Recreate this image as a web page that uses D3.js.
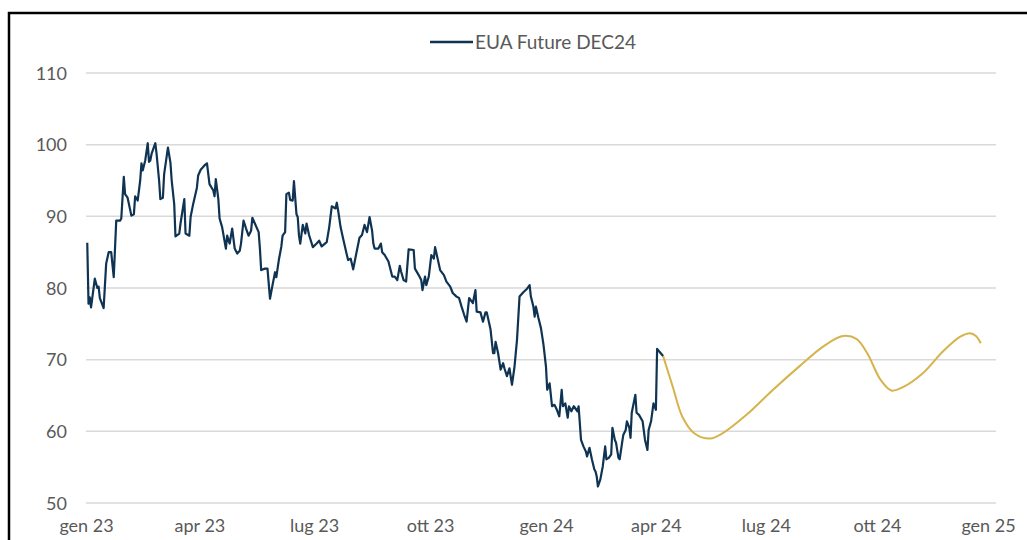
<!DOCTYPE html>
<html>
<head>
<meta charset="utf-8">
<script src="https://cdn.jsdelivr.net/npm/d3@7"></script>
<style>
  html, body { margin: 0; padding: 0; background: #ffffff; }
  svg { display: block; }
  text { font-family: Lato, "Open Sans", sans-serif; fill: #595959; }
</style>
</head>
<body>
<svg id="chart" width="1027" height="540"></svg>
<script>
// EUA Future DEC24 closing prices (EUR/t)
const histDates = [
  "2023-01-02","2023-01-03","2023-01-04","2023-01-05","2023-01-08","2023-01-10","2023-01-11","2023-01-12","2023-01-15","2023-01-17",
  "2023-01-19","2023-01-21","2023-01-23","2023-01-25","2023-01-28","2023-01-29","2023-01-31","2023-02-01","2023-02-03","2023-02-06",
  "2023-02-08","2023-02-09","2023-02-11","2023-02-13","2023-02-14","2023-02-15","2023-02-17","2023-02-19","2023-02-20","2023-02-21",
  "2023-02-22","2023-02-25","2023-02-26","2023-02-28","2023-03-01","2023-03-03","2023-03-04","2023-03-07","2023-03-09","2023-03-10",
  "2023-03-12","2023-03-13","2023-03-16","2023-03-17","2023-03-20","2023-03-21","2023-03-24","2023-03-25","2023-03-27","2023-03-30",
  "2023-03-31","2023-04-02","2023-04-05","2023-04-07","2023-04-09","2023-04-12","2023-04-13","2023-04-14","2023-04-16","2023-04-17",
  "2023-04-19","2023-04-22","2023-04-23","2023-04-25","2023-04-27","2023-04-29","2023-05-01","2023-05-03","2023-05-04","2023-05-06",
  "2023-05-08","2023-05-10","2023-05-12","2023-05-13","2023-05-15","2023-05-18","2023-05-19","2023-05-20","2023-05-23","2023-05-25",
  "2023-05-26","2023-05-27","2023-05-29","2023-05-31","2023-06-01","2023-06-03","2023-06-05","2023-06-06","2023-06-08","2023-06-09",
  "2023-06-11","2023-06-12","2023-06-14","2023-06-15","2023-06-17","2023-06-18","2023-06-19","2023-06-20","2023-06-22","2023-06-24",
  "2023-06-25","2023-06-27","2023-06-30","2023-07-03","2023-07-05","2023-07-07","2023-07-11","2023-07-13","2023-07-15","2023-07-18",
  "2023-07-19","2023-07-20","2023-07-22","2023-07-24","2023-07-27","2023-07-28","2023-07-30","2023-08-01","2023-08-03","2023-08-06",
  "2023-08-08","2023-08-10","2023-08-12","2023-08-14","2023-08-16","2023-08-17","2023-08-18","2023-08-21","2023-08-23","2023-08-24",
  "2023-08-26","2023-08-29","2023-08-30","2023-09-01","2023-09-03","2023-09-05","2023-09-07","2023-09-08","2023-09-10","2023-09-12",
  "2023-09-14","2023-09-18","2023-09-19","2023-09-22","2023-09-24","2023-09-25","2023-09-27","2023-09-28","2023-09-30","2023-10-02",
  "2023-10-04","2023-10-05","2023-10-07","2023-10-09","2023-10-12","2023-10-14","2023-10-17","2023-10-19","2023-10-22","2023-10-24",
  "2023-10-26","2023-10-28","2023-10-30","2023-11-01","2023-11-04","2023-11-06","2023-11-07","2023-11-10","2023-11-12","2023-11-14",
  "2023-11-15","2023-11-18","2023-11-20","2023-11-21","2023-11-22","2023-11-24","2023-11-26","2023-11-28","2023-11-29","2023-12-01",
  "2023-12-03","2023-12-05","2023-12-07","2023-12-09","2023-12-11","2023-12-14","2023-12-17","2023-12-19","2023-12-20","2023-12-22",
  "2023-12-23","2023-12-24","2023-12-26","2023-12-28","2023-12-30","2024-01-01","2024-01-02","2024-01-04","2024-01-06","2024-01-08",
  "2024-01-10","2024-01-12","2024-01-14","2024-01-15","2024-01-17","2024-01-19","2024-01-20","2024-01-22","2024-01-24","2024-01-27",
  "2024-01-28","2024-01-30","2024-02-01","2024-02-03","2024-02-04","2024-02-06","2024-02-08","2024-02-10","2024-02-11","2024-02-12",
  "2024-02-13","2024-02-15","2024-02-17","2024-02-19","2024-02-20","2024-02-22","2024-02-24","2024-02-25","2024-02-27","2024-02-28",
  "2024-03-01","2024-03-02","2024-03-04","2024-03-05","2024-03-07","2024-03-08","2024-03-10","2024-03-11","2024-03-12","2024-03-15",
  "2024-03-16","2024-03-18","2024-03-21","2024-03-23","2024-03-25","2024-03-26","2024-03-28","2024-03-30","2024-04-01","2024-04-02",
  "2024-04-05","2024-04-07"
];
const histValues = [
  86.3, 77.8, 78.7, 77.3, 81.3, 80.0, 80.2, 78.6, 77.2, 83.4,
  85.0, 85.0, 81.5, 89.4, 89.4, 89.7, 95.5, 93.1, 92.6, 90.1,
  90.3, 92.8, 92.2, 95.0, 97.4, 96.4, 97.8, 100.2, 97.6, 97.8,
  98.7, 100.2, 98.7, 95.0, 92.4, 92.6, 95.9, 99.6, 97.5, 95.0,
  91.7, 87.2, 87.6, 89.0, 92.4, 87.6, 87.3, 89.9, 91.7, 94.0,
  95.7, 96.5, 97.1, 97.4, 94.5, 93.6, 92.8, 95.2, 92.4, 89.7,
  88.5, 85.5, 87.3, 86.2, 88.3, 85.5, 84.8, 85.2, 86.2, 89.4,
  88.3, 87.3, 88.0, 89.8, 89.0, 87.8, 85.5, 82.5, 82.7, 82.7,
  80.6, 78.5, 80.4, 82.2, 81.5, 83.9, 85.8, 87.3, 87.8, 93.1,
  93.3, 92.3, 92.2, 94.9, 90.3, 89.9, 87.3, 86.2, 88.8, 87.6,
  89.0, 87.4, 85.7, 86.2, 86.6, 85.8, 86.4, 88.5, 91.4, 91.1,
  91.9, 90.9, 88.5, 86.9, 84.6, 83.9, 84.1, 82.6, 84.4, 87.0,
  87.4, 88.8, 87.8, 89.9, 88.0, 86.2, 85.5, 85.5, 86.2, 85.0,
  84.6, 83.7, 83.0, 81.6, 81.6, 81.1, 83.1, 82.3, 81.1, 80.9,
  85.4, 85.3, 82.7, 81.8, 81.1, 79.7, 81.6, 80.4, 81.6, 84.6,
  84.1, 85.7, 84.1, 82.5, 81.8, 80.9, 80.2, 79.3, 78.8, 78.6,
  77.4, 76.3, 75.3, 78.6, 77.9, 79.7, 76.7, 76.6, 75.3, 76.6,
  76.6, 74.2, 70.9, 70.9, 72.5, 70.9, 68.6, 69.5, 68.8, 67.7,
  68.8, 66.5, 69.0, 72.8, 78.8, 79.4, 79.9, 80.4, 78.8, 77.4,
  76.0, 77.4, 75.8, 74.4, 72.1, 69.0, 65.8, 66.7, 63.5, 63.7,
  63.0, 62.1, 65.8, 63.5, 63.9, 61.9, 63.5, 62.8, 63.5, 62.8,
  63.5, 58.8, 57.9, 57.2, 56.5, 57.7, 56.1, 54.7, 54.4, 53.7,
  52.3, 53.3, 55.1, 57.9, 56.1, 56.3, 56.8, 60.5, 58.8, 58.4,
  56.3, 56.1, 58.4, 59.5, 60.2, 61.4, 60.5, 59.1, 62.6, 65.1,
  62.6, 62.3, 61.4, 58.8, 57.4, 60.2, 61.4, 63.9, 63.0, 71.5,
  70.9, 70.5
];

// Projected path to contract expiry
const fcDates = [
  "2024-04-07","2024-04-15","2024-04-23","2024-05-03","2024-05-16","2024-05-26","2024-06-15","2024-07-07",
  "2024-07-29","2024-08-18","2024-09-03","2024-09-14","2024-09-23","2024-10-04","2024-10-13","2024-10-23",
  "2024-11-08","2024-11-25","2024-12-09","2024-12-17","2024-12-22","2024-12-26"
];
const fcValues = [
  70.5, 66.2, 62.0, 59.7, 59.0, 59.7, 62.3, 65.8,
  69.1, 71.9, 73.3, 72.9, 70.9, 67.2, 65.7, 66.2,
  68.1, 71.2, 73.2, 73.7, 73.3, 72.3
];

const yTicks = [50, 60, 70, 80, 90, 100, 110];
const xTickDates = ["2023-01-01","2023-04-01","2023-07-01","2023-10-01","2024-01-01",
                    "2024-04-01","2024-07-01","2024-10-01","2025-01-01"];
const legendLabel = "EUA Future DEC24";

const parse = d3.utcParse("%Y-%m-%d");
const itLocale = d3.timeFormatLocale({
  dateTime: "%A %e %B %Y, %X", date: "%d/%m/%Y", time: "%H:%M:%S",
  periods: ["AM", "PM"],
  days: ["domenica","lunedì","martedì","mercoledì","giovedì","venerdì","sabato"],
  shortDays: ["dom","lun","mar","mer","gio","ven","sab"],
  months: ["gennaio","febbraio","marzo","aprile","maggio","giugno","luglio","agosto","settembre","ottobre","novembre","dicembre"],
  shortMonths: ["gen","feb","mar","apr","mag","giu","lug","ago","set","ott","nov","dic"]
});
const fmtTick = itLocale.utcFormat("%b %y");

const hist = histDates.map((d, i) => ({ date: parse(d), value: histValues[i] }));
const fc = fcDates.map((d, i) => ({ date: parse(d), value: fcValues[i] }));

const svg = d3.select("#chart");

// Plot area
const plotLeft = 86, plotRight = 996, plotTop = 73, plotBottom = 503;

const x = d3.scaleUtc()
  .domain([parse("2023-01-01"), parse("2024-01-01"), parse("2025-01-01")])
  .range([plotLeft, 546, 988]);
const y = d3.scaleLinear().domain([50, 110]).range([plotBottom, plotTop]);

// Horizontal gridlines
svg.append("g")
  .selectAll("line")
  .data(yTicks)
  .join("line")
  .attr("x1", plotLeft).attr("x2", plotRight)
  .attr("y1", d => y(d)).attr("y2", d => y(d))
  .attr("stroke", "#d9d9d9").attr("stroke-width", 1.5);

// Y axis labels
const yAxis = d3.axisLeft(y).tickValues(yTicks).tickSize(0).tickPadding(0);
svg.append("g")
  .attr("transform", "translate(67,0)")
  .call(yAxis)
  .call(g => g.select(".domain").remove())
  .selectAll("text")
  .attr("font-size", 18)
  .attr("fill", "#595959")
  .attr("dy", "0.35em")
  .style("font-family", "Lato, 'Open Sans', sans-serif");

// X axis labels
const xAxis = d3.axisBottom(x)
  .tickValues(xTickDates.map(parse))
  .tickFormat(fmtTick)
  .tickSize(0).tickPadding(0);
svg.append("g")
  .attr("transform", `translate(0,${plotBottom + 16})`)
  .call(xAxis)
  .call(g => g.select(".domain").remove())
  .selectAll("text")
  .attr("font-size", 18)
  .attr("fill", "#595959")
  .attr("dy", "0.71em")
  .style("font-family", "Lato, 'Open Sans', sans-serif");

// Projection line
svg.append("path")
  .datum(fc)
  .attr("fill", "none")
  .attr("stroke", "#d6b34c")
  .attr("stroke-width", 2)
  .attr("d", d3.line().x(d => x(d.date)).y(d => y(d.value)).curve(d3.curveCatmullRom.alpha(0.5)));

// Historical price line
svg.append("path")
  .datum(hist)
  .attr("fill", "none")
  .attr("stroke", "#0f3352")
  .attr("stroke-width", 2.2)
  .attr("stroke-linejoin", "round")
  .attr("d", d3.line().x(d => x(d.date)).y(d => y(d.value)));

// Legend
const legend = svg.append("g").attr("transform", "translate(430,42)");
legend.append("line")
  .attr("x1", 0).attr("x2", 43).attr("y1", 0).attr("y2", 0)
  .attr("stroke", "#0f3352").attr("stroke-width", 2.5);
legend.append("text")
  .attr("x", 45).attr("y", 0).attr("dy", "0.35em")
  .attr("font-size", 19)
  .attr("fill", "#595959")
  .text(legendLabel);

// Outer frame
svg.append("rect")
  .attr("x", 9).attr("y", 13)
  .attr("width", 1040).attr("height", 560)
  .attr("fill", "none")
  .attr("stroke", "#000000")
  .attr("stroke-width", 2.5);
</script>
</body>
</html>
